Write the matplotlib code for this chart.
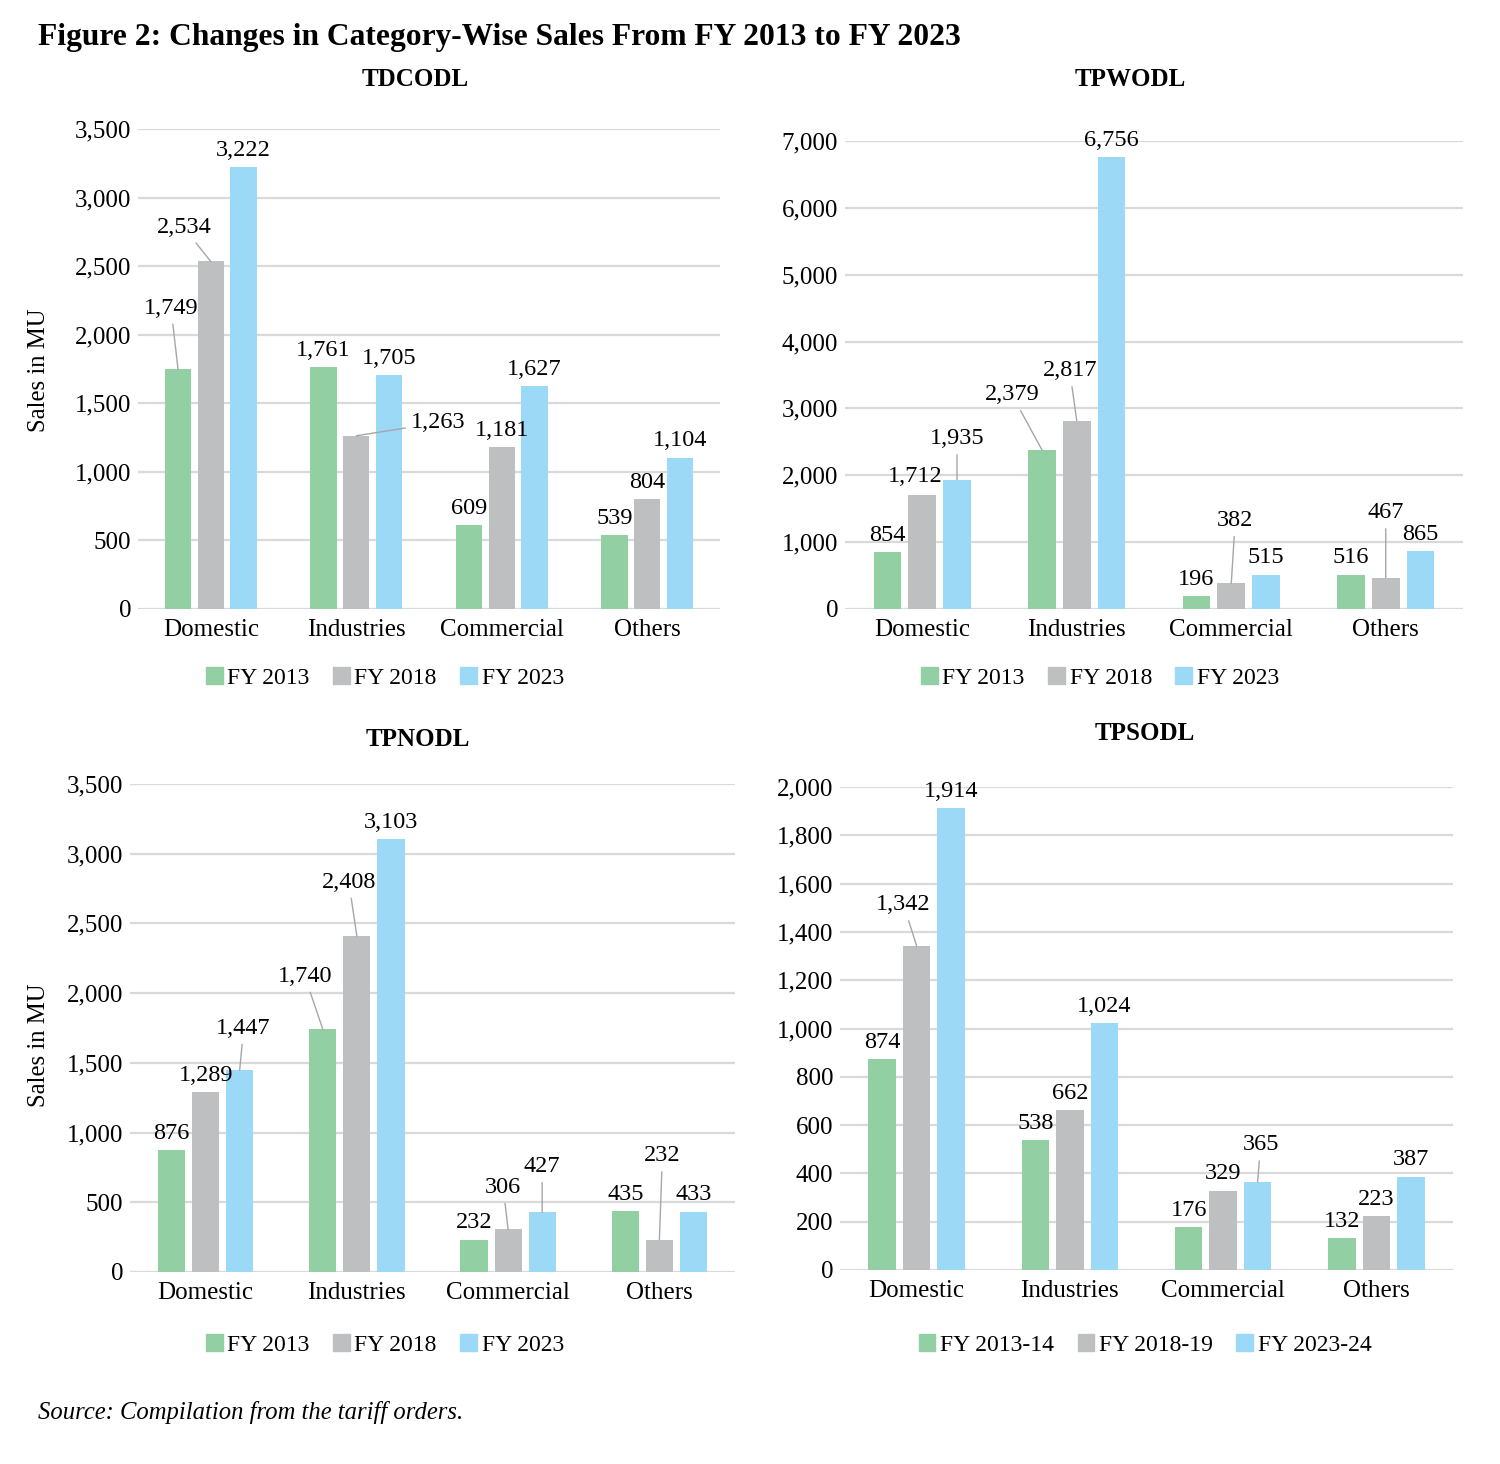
import matplotlib
matplotlib.use("Agg")
import matplotlib.pyplot as plt
import matplotlib.patches as mpatches
import numpy as np

plt.rcParams['font.family'] = ['Liberation Serif', 'DejaVu Serif']

categories = ["Domestic", "Industries", "Commercial", "Others"]
years_a = ["FY 2013", "FY 2018", "FY 2023"]
years_b = ["FY 2013-14", "FY 2018-19", "FY 2023-24"]

tdcodl = [[1749, 1761, 609, 539],
          [2534, 1263, 1181, 804],
          [3222, 1705, 1627, 1104]]
tpwodl = [[854, 2379, 196, 516],
          [1712, 2817, 382, 467],
          [1935, 6756, 515, 865]]
tpnodl = [[876, 1740, 232, 435],
          [1289, 2408, 306, 232],
          [1447, 3103, 427, 433]]
tpsodl = [[874, 538, 176, 132],
          [1342, 662, 329, 223],
          [1914, 1024, 365, 387]]

colors = ["#92CFA3", "#BEBFC1", "#9CD9F7"]
grid_col = "#D9D9D9"
lead_col = "#A6A6A6"

# moved labels with leader lines: (series, category) -> (dx, dy) in pixels from bar top
moved = {
    "TDCODL": {(0, 0): (-7, 61), (1, 0): (-27, 34), (1, 1): (82, 13)},
    "TPWODL": {(2, 0): (0, 41), (0, 1): (-30, 55), (1, 1): (-7, 50), (1, 2): (4, 63), (1, 3): (0, 65)},
    "TPNODL": {(2, 0): (4, 42), (0, 1): (-18, 53), (1, 1): (-8, 54),
               (1, 2): (-5, 42), (2, 2): (0, 46), (1, 3): (3, 84)},
    "TPSODL": {(1, 0): (-13, 41), (2, 2): (3, 37)},
}
# labels nudged sideways without a leader line
shifted = {"TPWODL": {(1, 0): (-7, 18)}}

W, H = 1500, 1464
fig = plt.figure(figsize=(W / 100, H / 100), dpi=100)


def px_rect(l, r, top, bottom):
    return [l / W, 1 - bottom / H, (r - l) / W, (bottom - top) / H]


panels = [
    ("TDCODL", tdcodl, years_a, 3500, 500, px_rect(138, 720, 129, 609), (415, 80), (385, 678), True, 0.498),
    ("TPWODL", tpwodl, years_a, 7000, 1000, px_rect(845, 1463, 141, 609), (1130, 80), (1100, 678), False, 0),
    ("TPNODL", tpnodl, years_a, 3500, 500, px_rect(130, 735, 784, 1272), (418, 740), (385, 1345), True, 0.465),
    ("TPSODL", tpsodl, years_b, 2000, 200, px_rect(840, 1453, 787, 1270), (1145, 733), (1145, 1345), False, 0),
]

x = np.arange(len(categories))
bw = 0.18
step = 0.225
lab_fs = 17.5

for name, vals, years, ymax, ystep, rect, tpos, lpos, ylab, ylab_y in panels:
    ax = fig.add_axes(rect)
    ax.set_xlim(-0.5, 3.5)
    ax.set_ylim(0, ymax)
    ax.set_yticks(np.arange(0, ymax + 1, ystep))
    ax.yaxis.set_major_formatter(matplotlib.ticker.FuncFormatter(lambda v, p: f"{int(v):,}"))
    ax.grid(axis='y', color=grid_col, lw=1.6)
    ax.set_axisbelow(True)
    for s in ax.spines.values():
        s.set_visible(False)
    ax.tick_params(axis='both', length=0)
    ax.tick_params(axis='y', pad=5, labelsize=18)
    ax.tick_params(axis='x', pad=7, labelsize=18)
    ax.set_xticks(x)
    ax.set_xticklabels(categories)

    for i in range(3):
        xs = x + (i - 1) * step
        ax.bar(xs, vals[i], width=bw, color=colors[i], zorder=2)
        for j, v in enumerate(vals[i]):
            key = (i, j)
            if key in moved[name]:
                dx, dy = moved[name][key]
                ax.annotate(f"{v:,}", xy=(xs[j], v), xytext=(dx * 0.72, dy * 0.72),
                            textcoords='offset points', ha='center', va='center',
                            fontsize=lab_fs, zorder=4,
                            arrowprops=dict(arrowstyle='-', color=lead_col, lw=1.0,
                                            shrinkA=2, shrinkB=0))
            else:
                dx, dy = shifted.get(name, {}).get(key, (0, 16.7))
                ax.annotate(f"{v:,}", xy=(xs[j], v), xytext=(dx * 0.72, dy * 0.72),
                            textcoords='offset points', ha='center', va='center',
                            fontsize=lab_fs, zorder=4)

    if ylab:
        ax.set_ylabel("Sales in MU", fontsize=17.8)
        ax.yaxis.set_label_coords((50 - rect[0] * W) / (rect[2] * W), ylab_y)

    fig.text(tpos[0] / W, 1 - tpos[1] / H, name, fontsize=18, fontweight='bold',
             ha='center', va='center')

    handles = [mpatches.Patch(color=colors[i], label=years[i]) for i in range(3)]
    fig.legend(handles=handles, loc='center', bbox_to_anchor=(lpos[0] / W, 1 - lpos[1] / H),
               ncol=3, frameon=False, fontsize=17, handlelength=0.7, handleheight=0.7,
               handletextpad=0.2, columnspacing=1.0)

fig.text(38 / W, 1 - 38 / H, "Figure 2: Changes in Category-Wise Sales From FY 2013 to FY 2023",
         fontsize=22.7, fontweight='bold', ha='left', va='center')
fig.text(38 / W, 1 - 1412 / H, "Source: Compilation from the tariff orders.",
         fontsize=17.7, fontstyle='italic', ha='left', va='center')

fig.savefig("out.png", dpi=100)
